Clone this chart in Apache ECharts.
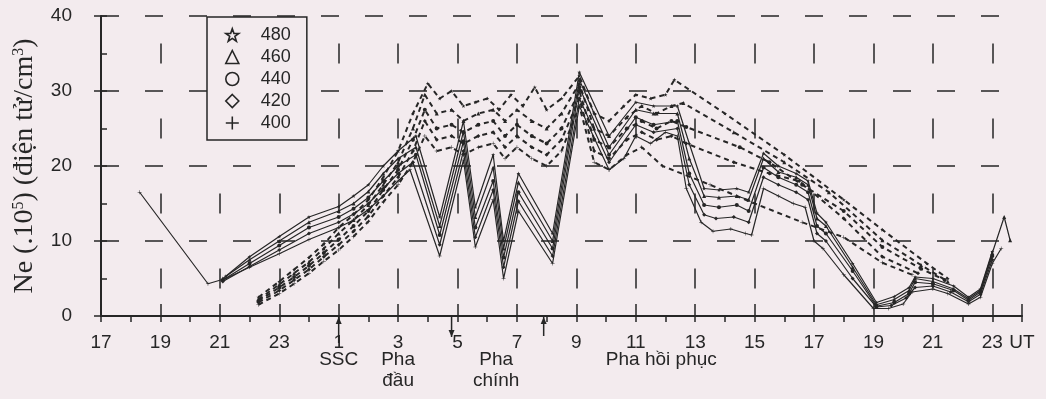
<!DOCTYPE html>
<html>
<head>
<meta charset="utf-8">
<script src="https://cdn.jsdelivr.net/npm/echarts@6/dist/echarts.min.js"></script>
<style>
html, body { margin: 0; padding: 0; background: #f3ebee; }
#chart { width: 1046px; height: 399px; }
</style>
</head>
<body>
<div id="chart"></div>
<script>
// time in hours, continuous from 17h of the first day (24 = 0h, 47 = 23h next day)
const altitudes = ['480', '460', '440', '420', '400'];

// solid lines (measured points)
const solid480 = [[21.2,5.3],[22,7.9],[23,10.6],[24,13.2],[25,14.6],[25.5,16],[26,17.5],[26.5,20],[27,22],[27.6,24],[28.4,13.2],[29.2,26],[29.6,14.5],[30.2,21.5],[30.55,10],[31.05,19],[32.2,11],[33.1,32.5],[34.1,24],[35,28.5],[35.6,28],[36.4,28],[36.8,23],[37.3,17],[37.8,16.8],[38.4,17],[38.8,16.5],[39.3,21.7],[39.8,20],[40.4,19],[40.8,18],[41.1,13.7],[41.4,12.5],[42.3,7],[43.1,1.8],[43.7,2.6],[44.2,3.8],[44.4,5.2],[45,5],[45.7,4],[46.2,2.5],[46.6,3.6],[47,8.6]];
const solid460 = [[21.1,5.0],[22,7.5],[23,10],[24,12.5],[25,14],[25.5,15],[26,16.6],[26.5,19],[27,21],[27.6,22.5],[28.4,12],[29.2,24.6],[29.6,13.2],[30.2,19.8],[30.55,9],[31.05,17.8],[32.2,10],[33.1,31.5],[34.1,22.5],[35,27.5],[35.6,27],[36.4,27],[36.8,21],[37.3,16],[37.8,15.8],[38.4,16],[38.8,15.5],[39.3,21],[39.8,19.2],[40.4,18.5],[40.8,17.5],[41.1,13],[41.4,12],[42.3,6.5],[43.1,1.5],[43.7,2.2],[44.2,3.4],[44.4,5],[45,4.6],[45.7,3.6],[46.2,2.3],[46.6,3.4],[47,8.4],[47.4,13.2],[47.6,10.1]];
const solid440 = [[21.1,4.8],[22,7],[23,9.4],[24,11.8],[25,13.2],[25.5,14.3],[26,15.8],[26.5,18],[27,20],[27.6,21.5],[28.4,10.8],[29.2,23.3],[29.6,11.8],[30.2,18],[30.55,7.8],[31.05,16.5],[32.2,9],[33.1,30.5],[34.1,21.5],[35,26.5],[35.6,25.5],[36.4,26],[36.8,19],[37.3,14.8],[37.8,14.5],[38.4,14.8],[38.8,14],[39.3,19.8],[39.8,18.5],[40.4,17.5],[40.8,16.5],[41.1,12],[41.4,11],[42.3,6],[43.1,1.3],[43.7,1.8],[44.2,3],[44.4,4.5],[45,4.3],[45.7,3.4],[46.2,2.1],[46.6,3.2],[47,8]];
const solid420 = [[21.1,4.6],[22,6.6],[23,8.8],[24,11],[25,12.5],[25.5,13.6],[26,15],[26.5,17],[27,19],[27.5,20.5],[28.4,9.5],[29.2,22],[29.6,10.5],[30.2,16.8],[30.55,6.5],[31.05,15.3],[32.2,8],[33.1,29],[34.1,20.5],[35,25.5],[35.6,24.5],[36.4,25],[36.8,17.5],[37.3,13.5],[37.7,13],[38.3,13.2],[38.8,12.5],[39.3,18.5],[39.8,17.5],[40.4,16.5],[40.8,15.5],[41.1,11],[41.4,10],[42.3,5],[43.1,1.2],[43.6,1.4],[44.1,2.4],[44.4,3.8],[45,4],[45.6,3.2],[46.2,1.9],[46.6,2.9],[47,7.5]];
const solid400 = [[18.3,16.5],[20.6,4.3],[21.2,5.0],[22,6.5],[23,8.3],[24,10.2],[25,11.8],[25.5,12.8],[26,14.2],[26.5,16],[27,18],[27.4,19.5],[28.4,8.0],[29.2,20.8],[29.6,9.2],[30.2,15.5],[30.55,5.0],[31.05,14.0],[32.2,7.0],[33.1,28],[34.1,19.5],[34.6,21],[35,24],[35.5,23],[36,24.5],[36.4,24],[36.7,17],[37.2,12.5],[37.6,11.3],[38.2,11.6],[38.7,11.0],[38.9,10.8],[39.3,17],[39.8,16],[40.3,15],[40.7,14.5],[41,10],[41.3,9],[42,5.5],[43,1],[43.5,1.0],[44,1.6],[44.3,3.2],[45,3.6],[45.5,3.0],[46.2,1.6],[46.6,2.5],[47,7],[47.3,9]];

// dashed lines
const dashed480 = [[22.3,2.5],[23,4.6],[23.5,6.2],[24,7.8],[24.5,9.6],[25,11.8],[25.5,13.5],[26,15.5],[26.5,18.5],[27,22],[27.5,27],[28,31],[28.4,29],[28.8,30],[29.2,28],[29.6,28.5],[30,29],[30.4,27.5],[30.8,29.5],[31.2,28],[31.6,30.5],[32,27.5],[32.5,29],[33.1,32],[33.6,27],[34.1,26],[34.6,28],[35,29.5],[35.5,29],[36,29.5],[36.3,31.5],[38,27],[40,21.5],[42,15.5],[43.3,11.5],[44.8,7],[45.5,5]];
const dashed460 = [[22.3,2.2],[23,4.2],[23.5,5.7],[24,7.2],[24.5,9],[25,11],[25.5,12.8],[26,14.8],[26.5,17.5],[27,20.5],[27.5,25],[27.9,29.5],[28.3,27],[28.8,27.5],[29.2,26],[29.7,27],[30.2,27.5],[30.6,26],[31,27.5],[31.5,26],[32,25],[32.5,27],[33.1,31],[33.6,25],[34.1,24],[34.7,26.5],[35.2,28],[35.7,27],[36.2,28],[36.6,28.4],[38.3,24.5],[40,20.5],[41.5,16.5],[43.3,10.1],[44.6,6.8],[45.5,4.6]];
const dashed440 = [[22.3,2.0],[23,3.8],[23.5,5.2],[24,6.7],[24.5,8.4],[25,10.2],[25.5,12],[26,14],[26.5,16.8],[27,19.5],[27.5,23.5],[27.9,27.5],[28.3,25],[28.8,25.5],[29.2,24.5],[29.7,25.5],[30.2,26],[30.6,24],[31,25.5],[31.5,24],[32,23],[32.5,25],[33.1,30],[33.6,23.5],[34.1,22.5],[34.7,25],[35.2,26],[35.7,25],[36.2,26],[36.7,25.2],[38.5,22.5],[39.5,20.5],[40.6,17.5],[42,14],[43.3,9.2],[44.6,6.3],[45.4,4.8]];
const dashed420 = [[22.3,1.8],[23,3.4],[23.5,4.8],[24,6.2],[24.5,7.9],[25,9.5],[25.5,11.3],[26,13.3],[26.5,16],[27,18.5],[27.5,22],[27.9,26],[28.3,23.5],[28.8,24],[29.2,23],[29.7,24],[30.2,24.5],[30.6,22.5],[31,24],[31.5,22.5],[32,21.5],[32.5,23.5],[33.1,29],[33.6,22],[34.1,21],[34.7,23.5],[35.2,24.5],[35.7,23.5],[36.2,24],[36.7,23],[38.3,20.5],[39.5,19],[40.5,18],[42,13],[43.3,7.9],[44.5,5.7]];
const dashed400 = [[22.3,1.5],[23,3],[23.5,4.3],[24,5.7],[24.5,7.3],[25,8.8],[25.5,10.6],[26,12.6],[26.5,15.2],[27,17.5],[27.5,20.5],[27.9,24],[28.3,22],[28.8,22.5],[29.2,21.5],[29.7,22.5],[30.2,23],[30.6,21],[31,22.5],[31.5,21],[32,20],[32.5,22],[33.1,28],[33.6,20.5],[34.1,19.5],[34.7,21.5],[35.2,22.5],[35.9,20],[37.5,17.5],[39,15],[40.6,12.5],[42,10.5],[43.3,7.1],[44.3,5.5]];

const solidData = [solid480, solid460, solid440, solid420, solid400];
const dashedData = [dashed480, dashed460, dashed440, dashed420, dashed400];

// storm phase notes under the time axis
const phaseNotes = [
    { t: 25, text: 'SSC' },
    { t: 27, text: 'Pha\nđầu' },
    { t: 30.3, text: 'Pha\nchính' },
    { t: 35.86, text: 'Pha hồi phục' }
];
const arrows = [
    { t: 25, up: true, len: 26 },
    { t: 28.8, up: false, len: 20 },
    { t: 31.9, up: true, len: 19 }
];

const ink = '#262626';
const bg = '#f3ebee';
const starPath = 'path://M50,2 L62,36 L98,37 L69,58 L80,94 L50,73 L20,94 L31,58 L2,37 L38,36 Z';
const plusPath = 'path://M44,0 H56 V44 H100 V56 H56 V100 H44 V56 H0 V44 H44 Z';
const symbols = [starPath, 'triangle', 'circle', 'diamond', plusPath];

let chart = echarts.init(document.getElementById('chart'));

let series = [];
altitudes.forEach((alt, i) => {
    series.push({
        name: alt,
        type: 'line',
        data: solidData[i],
        symbol: symbols[i],
        symbolSize: 4,
        itemStyle: { color: ink },
        lineStyle: { color: ink, width: 1.2 },
        animation: false
    });
    series.push({
        name: alt,
        type: 'line',
        data: dashedData[i],
        symbol: symbols[i],
        symbolSize: 4,
        itemStyle: { color: ink },
        lineStyle: { color: ink, width: 2, type: [5, 4] },
        animation: false
    });
});

let legendData = altitudes.map((alt, i) => ({
    name: alt,
    icon: symbols[i],
    itemStyle: i === 4
        ? { color: ink, borderWidth: 0 }
        : { color: 'rgba(0,0,0,0)', borderColor: ink, borderWidth: 1.6 }
}));

let option = {
    backgroundColor: bg,
    animation: false,
    grid: { left: 101, right: 24, top: 16, bottom: 83 },
    legend: {
        data: legendData,
        orient: 'vertical',
        left: 207,
        top: 17,
        padding: [9, 16, 8, 18],
        itemWidth: 13,
        itemHeight: 13,
        itemGap: 4,
        backgroundColor: bg,
        borderColor: ink,
        borderWidth: 1.5,
        selectedMode: false,
        textStyle: { fontFamily: 'Liberation Sans', fontSize: 18, color: ink, padding: [0, 0, 0, 17] }
    },
    xAxis: [
        {
            type: 'value',
            min: 17,
            max: 48,
            interval: 2,
            axisLine: { lineStyle: { color: ink, width: 2 } },
            axisTick: { inside: true, length: 12, lineStyle: { color: ink, width: 1.5 } },
            axisLabel: {
                color: ink,
                fontFamily: 'Liberation Sans',
                fontSize: 19,
                margin: 17,
                showMaxLabel: true,
                formatter: v => v === 48 ? 'UT' : String(v % 24)
            },
            splitLine: {
                show: true,
                showMinLine: false,
                showMaxLine: false,
                lineStyle: { color: ink, width: 1.5, type: [20, 55], dashOffset: 47.5 }
            }
        },
        {
            type: 'value',
            min: 17,
            max: 48,
            interval: 1,
            position: 'bottom',
            axisLine: { show: false },
            axisTick: { inside: false, length: 6, lineStyle: { color: ink, width: 1.5 } },
            axisLabel: { show: false },
            splitLine: { show: false }
        }
    ],
    yAxis: [
        {
            type: 'value',
            min: 0,
            max: 40,
            interval: 10,
            name: 'Ne (.10{sup|5}) (điện tử/cm{sup|3})',
            nameLocation: 'middle',
            nameGap: 62,
            nameTextStyle: {
                fontFamily: 'Liberation Serif',
                fontSize: 28,
                color: ink,
                rich: {
                    sup: { fontFamily: 'Liberation Serif', fontSize: 16, color: ink, verticalAlign: 'top', lineHeight: 28 }
                }
            },
            axisLine: { show: true, lineStyle: { color: ink, width: 2 } },
            axisTick: { show: true, inside: false, length: 7, lineStyle: { color: ink, width: 1.5 } },
            axisLabel: { color: ink, fontFamily: 'Liberation Sans', fontSize: 19, margin: 29 },
            splitLine: {
                show: true,
                showMinLine: false,
                lineStyle: { color: ink, width: 1.5, type: [18, 26] }
            }
        },
        {
            type: 'value',
            min: 0,
            max: 40,
            interval: 5,
            position: 'left',
            axisLine: { show: false },
            axisTick: { show: true, inside: true, length: 6, lineStyle: { color: ink, width: 1.5 } },
            axisLabel: { show: false },
            splitLine: { show: false }
        }
    ],
    series: series
};

chart.setOption(option);

// notes and arrows below the axis, placed from the axis scale
let px = t => chart.convertToPixel({ xAxisIndex: 0 }, t);
let axisY = chart.convertToPixel({ yAxisIndex: 0 }, 0);
let graphics = [];
phaseNotes.forEach(n => {
    graphics.push({
        type: 'text',
        x: px(n.t),
        y: axisY + 33,
        style: {
            text: n.text,
            font: '19px "Liberation Sans"',
            fill: ink,
            align: 'center',
            verticalAlign: 'top',
            lineHeight: 21
        }
    });
});
arrows.forEach(a => {
    let x = px(a.t);
    let tip = a.up ? axisY + 1 : axisY + 1 + a.len;
    let tail = a.up ? axisY + 1 + a.len : axisY + 1;
    let d = a.up ? 7 : -7;
    graphics.push({
        type: 'line',
        shape: { x1: x, y1: tail, x2: x, y2: tip },
        style: { stroke: ink, lineWidth: 1.5 }
    });
    graphics.push({
        type: 'polygon',
        shape: { points: [[x, tip], [x - 3, tip + d], [x + 3, tip + d]] },
        style: { fill: ink }
    });
});
chart.setOption({ graphic: graphics });
</script>
</body>
</html>
